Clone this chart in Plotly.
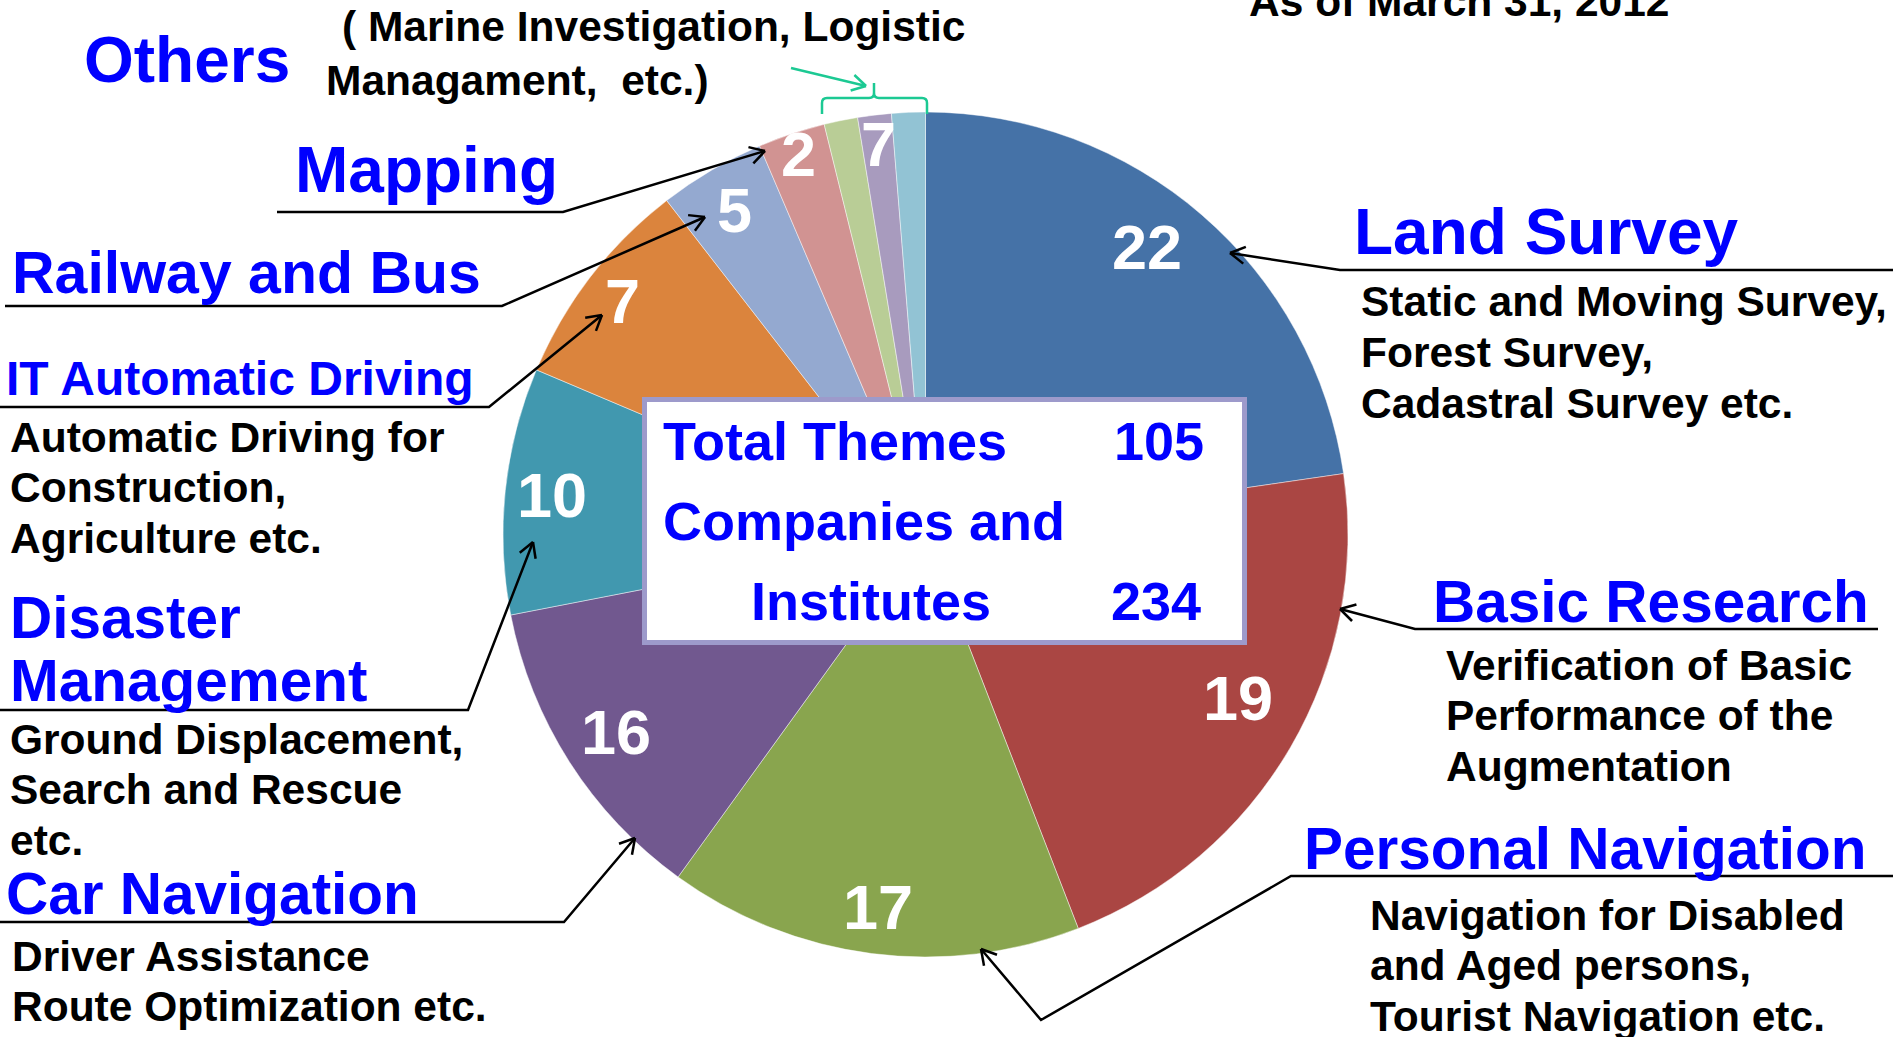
import math
import plotly.graph_objects as go

W, H = 1893, 1037

# ---------------- data ----------------
categories = ["Land Survey", "Basic Research", "Personal Navigation", "Car Navigation",
              "Disaster Management", "IT Automatic Driving", "Railway and Bus", "Mapping",
              "Others (1)", "Others (2)", "Others (3)"]
# slice sizes (companies and institutes)
slice_share = [53, 50, 37, 28, 22, 19, 9.5, 6, 3, 3, 3]
# numbers printed on the slices (themes)
theme_labels = ["22", "19", "17", "16", "10", "7", "5", "2", "", "7", ""]
slice_colors = ["#4572A7", "#AA4643", "#89A54E", "#71588F", "#4198AF", "#DB843D",
                "#94A9D0", "#D19392", "#B9CD96", "#A89BBE", "#92C3D4"]
label_radius = [0.86, 0.835, 0.89, 0.87, 0.89, 0.905, 0.89, 0.95, 0.0, 0.93, 0.0]
label_pos = [0.46, 0.465, 0.5, 0.5, 0.5, 0.5, 0.5, 0.5, 0.5, 0.5, 0.5]

total_themes = "105"
total_companies = "234"
as_of = "As of March 31, 2012"

FONT = "Arial, Liberation Sans, Helvetica, sans-serif"
BLUE = "#0000FF"
GREEN = "#1CC993"

# pie geometry (pixels)
CX, CY, R = 925.5, 534.5, 422.5


def px(x):
    return x / W


def py(y):
    return 1 - y / H


fig = go.Figure()
fig.add_trace(go.Pie(
    labels=categories,
    values=slice_share,
    sort=False,
    direction="clockwise",
    rotation=0,
    marker=dict(colors=slice_colors, line=dict(color="rgba(255,255,255,0.45)", width=1)),
    textinfo="none",
    hoverinfo="label",
    showlegend=False,
    domain=dict(x=[px(CX - R), px(CX + R)], y=[py(CY + R), py(CY - R)]),
))

annotations = []
shapes = []


def text(t, x, y, size, color="black", xanchor="left"):
    annotations.append(dict(
        text=t, x=px(x), y=py(y), xref="paper", yref="paper",
        xanchor=xanchor, yanchor="middle", showarrow=False,
        font=dict(family=FONT, size=size, color=color, weight="bold"),
    ))


def block(lines, x, y0, size=42.5, gap=50.5):
    for i, ln in enumerate(lines):
        text(ln, x, y0 + i * gap, size)


def seg(points, color="black", width=2.5):
    d = "M " + " L ".join(f"{px(a)},{py(b)}" for a, b in points)
    shapes.append(dict(type="path", path=d, xref="paper", yref="paper",
                       line=dict(color=color, width=width)))


def arrow(points, color="black", width=2.5, head=17, ang=30):
    seg(points, color, width)
    (x0, y0), (x1, y1) = points[-2], points[-1]
    dx, dy = x1 - x0, y1 - y0
    n = math.hypot(dx, dy)
    ux, uy = dx / n, dy / n
    for s in (-1, 1):
        a = math.radians(ang) * s
        rx = ux * math.cos(a) - uy * math.sin(a)
        ry = ux * math.sin(a) + uy * math.cos(a)
        seg([(x1 - head * rx, y1 - head * ry), (x1, y1)], color, width)


# ---------------- slice numbers ----------------
total = sum(slice_share)
cum = 0
for v, lab, rf, pos in zip(slice_share, theme_labels, label_radius, label_pos):
    ang = (cum + v * pos) / total * 2 * math.pi
    cum += v
    if not lab:
        continue
    x = CX + R * rf * math.sin(ang)
    y = CY - R * rf * math.cos(ang)
    annotations.append(dict(
        text=lab, x=px(x), y=py(y), xref="paper", yref="paper",
        xanchor="center", yanchor="middle", showarrow=False,
        font=dict(family=FONT, size=63, color="white", weight="bold"),
    ))

# ---------------- centre box ----------------
shapes.append(dict(type="rect", xref="paper", yref="paper",
                   x0=px(644.5), x1=px(1244.5), y0=py(642.5), y1=py(399.5),
                   line=dict(color="#9D9ACB", width=5), fillcolor="white"))
text("Total Themes", 661, 441, 54, BLUE)
text(total_themes, 1206, 441, 54, BLUE, "right")
text("Companies and", 661, 521, 54, BLUE)
text("Institutes", 749, 601, 54, BLUE)
text(total_companies, 1203, 601, 54, BLUE, "right")

# ---------------- titles & descriptions ----------------
text(as_of, 1247, 2, 42.5)

text("Others", 82, 60, 64, BLUE)
text("( Marine Investigation, Logistic", 340, 27, 42.5)
text("Managament,\u00a0 etc.)", 324, 80, 42.5)

text("Mapping", 293, 170, 64, BLUE)
text("Railway and Bus", 10, 273, 59, BLUE)
text("IT Automatic Driving", 4, 379, 48, BLUE)
block(["Automatic Driving for", "Construction,", "Agriculture etc."], 8, 437)
text("Disaster", 8, 617, 58.5, BLUE)
text("Management", 8, 680, 58.5, BLUE)
block(["Ground Displacement,", "Search and Rescue", "etc."], 8, 739)
text("Car Navigation", 4, 893, 58.5, BLUE)
block(["Driver Assistance", "Route Optimization etc."], 10, 956)

text("Land Survey", 1352, 232, 64, BLUE)
block(["Static and Moving Survey,", "Forest Survey,", "Cadastral Survey etc."], 1359, 302)
text("Basic Research", 1431, 601, 58.5, BLUE)
block(["Verification of Basic", "Performance of the", "Augmentation"], 1444, 665)
text("Personal Navigation", 1302, 848, 58.5, BLUE)
block(["Navigation for Disabled", "and Aged persons,", "Tourist Navigation etc."], 1368, 915)

# ---------------- leader lines ----------------
arrow([(1893, 270), (1340, 270), (1230, 253)])
arrow([(1878, 629), (1415, 629), (1340, 609)])
arrow([(1893, 876), (1291, 876), (1041, 1020), (981, 949)])
arrow([(0, 922), (564, 922), (635, 838)])
arrow([(0, 710), (468, 710), (533, 542)])
arrow([(0, 407), (489, 407), (602, 315)])
arrow([(5, 306), (502, 306), (705, 217)])
arrow([(277, 212), (563, 212), (765, 151)])

# others: green arrow and brace
arrow([(791, 68), (866, 86)], color=GREEN, width=2.5, head=16)
brace = ("M {a},{b} L {a},{c} Q {a},{d} {e},{d} L {f},{d} Q {g},{d} {g},{h} L {g},{i} "
         "M {g},{h} Q {g},{d} {j},{d} L {k},{d} Q {l},{d} {l},{c} L {l},{b}")
shapes.append(dict(type="path", xref="paper", yref="paper",
                   path=brace.format(a=px(822), b=py(114), c=py(103), d=py(98), e=px(827),
                                     f=px(869), g=px(874), h=py(93), i=py(83), j=px(879),
                                     k=px(922), l=px(927)),
                   line=dict(color=GREEN, width=2.5)))

fig.update_layout(
    width=W, height=H,
    margin=dict(l=0, r=0, t=0, b=0),
    paper_bgcolor="white", plot_bgcolor="white",
    annotations=annotations, shapes=shapes,
    showlegend=False,
)

fig.write_html(
    "out.html",
    config={"displayModeBar": False},
    post_script="document.body.style.margin='0';document.body.style.overflow='hidden';",
)
